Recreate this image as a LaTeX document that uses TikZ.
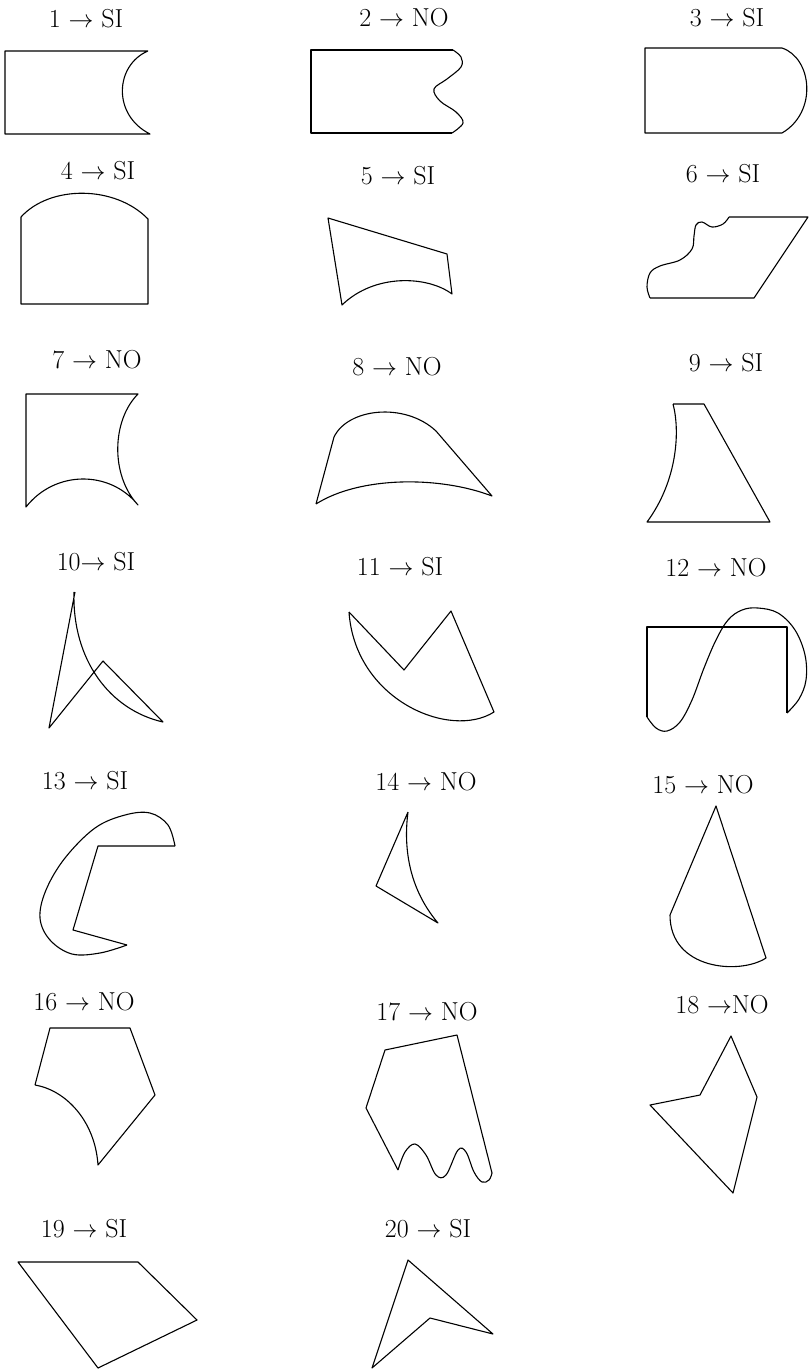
\documentclass[tikz,border=0pt]{standalone}
\begin{document}
\begin{tikzpicture}[x=1pt,y=-1pt,
  shp/.style={line width=1.1pt, line join=round},
  lbl/.style={font=\fontsize{26}{30}\selectfont, inner sep=0pt}]
\useasboundingbox (0,0) rectangle (809,1370);
% labels
\node[lbl] (l1) at (86,19) {1 $\rightarrow$ SI};
\node[lbl] (l2) at (404,18) {2 $\rightarrow$ NO};
\node[lbl] (l3) at (727,18) {3 $\rightarrow$ SI};
\node[lbl] (l4) at (98,171) {4 $\rightarrow$ SI};
\node[lbl] (l5) at (398,176) {5 $\rightarrow$ SI};
\node[lbl] (l6) at (723,174) {6 $\rightarrow$ SI};
\node[lbl] (l7) at (97,360) {7 $\rightarrow$ NO};
\node[lbl] (l8) at (397,367) {8 $\rightarrow$ NO};
\node[lbl] (l9) at (726,363) {9 $\rightarrow$ SI};
\node[lbl] (l10) at (96,562) {10$\rightarrow$ SI};
\node[lbl] (l11) at (400,567) {11 $\rightarrow$ SI};
\node[lbl] (l12) at (716,568) {12 $\rightarrow$ NO};
\node[lbl] (l13) at (85,781) {13 $\rightarrow$ SI};
\node[lbl] (l14) at (426,782) {14 $\rightarrow$ NO};
\node[lbl] (l15) at (703,785) {15 $\rightarrow$ NO};
\node[lbl] (l16) at (84,1002) {16 $\rightarrow$ NO};
\node[lbl] (l17) at (427,1012) {17 $\rightarrow$ NO};
\node[lbl] (l18) at (722,1005) {18 $\rightarrow$NO};
\node[lbl] (l19) at (84,1229) {19 $\rightarrow$ SI};
\node[lbl] (l20) at (428,1229) {20 $\rightarrow$ SI};
% 1
\draw[shp] (148,51) -- (5,51) -- (5,134) -- (150,134) .. controls (112,115) and (115,65) .. (148,51);
% 2
\draw[shp] (453,50) -- (311,50) -- (311,133) -- (452,133);
\draw[shp] plot[smooth, tension=0.6] coordinates {(453,50) (461,57) (461,67) (447,79) (434,89) (440,101) (456,112) (463,123) (452,133)};
% 3
\draw[shp] (782,48) -- (645,48) -- (645,133) -- (782,133) .. controls (818,112) and (812,58) .. (782,48);
% 4
\draw[shp] (21,217) -- (21,304) -- (148,304) -- (148,219) .. controls (115,185) and (50,185) .. (21,217);
% 5
\draw[shp] (328,218) -- (447,254) -- (452,294) .. controls (428,276) and (375,273) .. (342,305) -- cycle;
% 6
\draw[shp] (650,298) -- (754,298) -- (808,217) -- (729,217);
\draw[shp] plot[smooth, tension=0.6] coordinates {(729,217) (723,224) (712,227) (702,222) (696,225) (694,236) (692,249) (680,260) (660,266) (650,273) (647,287) (650,298)};
% 7
\draw[shp] (26,394) -- (138,394) .. controls (112,420) and (110,475) .. (138,505) .. controls (110,470) and (55,470) .. (26,507) -- cycle;
% 8
\draw[shp] (316,504) -- (334,437) .. controls (348,408) and (405,402) .. (436,431) -- (492,496) .. controls (440,476) and (360,476) .. (316,504);
% 9
\draw[shp] (673,404) -- (704,404) -- (770,522) -- (647,522) .. controls (678,480) and (680,430) .. (673,404);
% 10
\draw[shp] (75,592) -- (49,728) -- (103,661) -- (163,722) .. controls (110,710) and (72,660) .. (74,592);
% 11
\draw[shp] (349,612) -- (404,670) -- (451,611) -- (494,712) .. controls (450,740) and (355,700) .. (349,612);
% 12
\draw[shp] (647,717) -- (647,627) -- (787,627) -- (787,713);
\draw[shp] plot[smooth, tension=0.6] coordinates {(647,717) (656,728) (667,731) (680,722) (692,700) (704,668) (716,640) (728,620) (742,610) (758,608) (778,613) (795,630) (805,655) (806,680) (799,699) (787,713)};
% 13
\draw[shp] (127,945) -- (73,930) -- (98,846) -- (175,846);
\draw[shp] plot[smooth, tension=0.6] coordinates {(175,846) (168,825) (150,813) (125,815) (95,828) (65,858) (46,890) (40,918) (50,940) (72,954) (100,953) (127,945)};
% 14
\draw[shp] (408,812) -- (376,886) -- (438,923) .. controls (410,890) and (403,850) .. (408,812);
% 15
\draw[shp] (670,915) -- (716,806) -- (766,958) .. controls (740,975) and (670,970) .. (670,915);
% 16
\draw[shp] (35,1085) -- (50,1028) -- (130,1028) -- (155,1095) -- (98,1165) .. controls (95,1120) and (65,1090) .. (35,1085);
% 17
\draw[shp] (398,1170) -- (366,1108) -- (385,1050) -- (457,1035) -- (492,1173);
\draw[shp] plot[smooth, tension=0.6] coordinates {(398,1170) (405,1152) (415,1144) (426,1155) (436,1175) (446,1175) (458,1150) (466,1152) (474,1172) (482,1182) (489,1180) (492,1173)};
% 18
\draw[shp] (731,1036) -- (757,1097) -- (733,1193) -- (650,1105) -- (700,1095) -- cycle;
% 19
\draw[shp] (18,1262) -- (138,1262) -- (197,1320) -- (98,1368) -- cycle;
% 20
\draw[shp] (408,1260) -- (493,1334) -- (430,1318) -- (372,1368) -- cycle;
\end{tikzpicture}
\end{document}
